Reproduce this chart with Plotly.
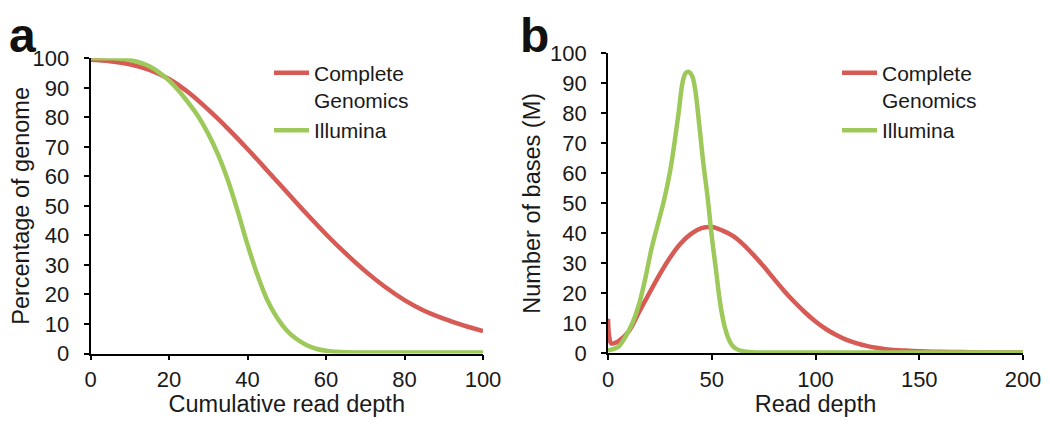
import plotly.graph_objects as go

# ---------------- data ----------------
# Panel a: cumulative coverage, percentage of genome
a_cg_x = [0, 5, 10, 15, 20, 25, 30, 35, 40, 45, 50, 55, 60, 65, 70, 75, 80, 85, 90, 95, 100]
a_cg_y = [99.5, 99.0, 98.0, 96.1, 93.0, 88.4, 82.6, 76.2, 69.3, 62.0, 54.7, 47.4, 40.4, 33.9,
          27.9, 22.6, 18.1, 14.5, 11.8, 9.5, 7.6]
a_il_x = [0, 5, 10, 15, 20, 22.5, 25, 27.5, 30, 32.5, 35, 37.5, 40, 42.5, 45, 47.5, 50, 52.5,
          55, 57.5, 60, 62.5, 65, 70, 80, 90, 100]
a_il_y = [100, 100, 99.4, 97.3, 92.5, 89.0, 84.8, 80.2, 74.4, 67.4, 58.7, 48.2, 36.9, 26.7,
          18.2, 12.2, 7.8, 4.9, 2.9, 1.6, 0.9, 0.6, 0.45, 0.35, 0.3, 0.3, 0.3]

# Panel b: read depth distribution, number of bases (M)
b_cg_x = [0, 0.5, 1.5, 3, 5, 10, 15, 20, 25, 30, 35, 40, 45, 50, 55, 60, 65, 70, 75, 80, 85, 90,
          95, 100, 105, 110, 115, 120, 125, 130, 135, 140, 145, 150, 160, 170, 180, 190, 200]
b_cg_y = [11.5, 6, 3.3, 3.4, 4.0, 7.3, 13.8, 20.2, 26.4, 32.0, 36.6, 39.8, 41.7, 42.1, 41.0,
          39.2, 36.4, 32.9, 29.0, 24.8, 20.7, 17.0, 13.6, 10.6, 8.1, 6.1, 4.5, 3.3, 2.4, 1.75,
          1.3, 1.0, 0.85, 0.7, 0.5, 0.4, 0.3, 0.3, 0.3]
b_il_x = [0, 2, 5, 8, 12, 15, 18, 21, 24, 27, 30, 32, 34, 36, 37.5, 39, 40.5, 42, 44, 46, 48, 50,
          52, 54, 56, 58, 60, 62, 65, 68, 72, 80, 100, 150, 200]
b_il_y = [1, 1.3, 2.2, 5, 10.5, 16.5, 25, 35, 43, 51, 61, 70, 80, 90.5, 93.5, 93.8, 92.5, 88, 76,
          63, 52, 39, 28, 17, 9.5, 5, 2.5, 1.4, 0.7, 0.4, 0.3, 0.3, 0.3, 0.3, 0.3]

series_names = ["Complete<br>Genomics", "Illumina"]
a_xticks = [0, 20, 40, 60, 80, 100]
b_xticks = [0, 50, 100, 150, 200]
yticks = [0, 10, 20, 30, 40, 50, 60, 70, 80, 90, 100]

RED = "#d75a55"
GREEN = "#9dc95b"
FONT = "Liberation Sans, Arial, sans-serif"
TXT = "#1a1a1a"

# page body has an 8px margin, so the figure is sized to fit inside the window
W, H = 1034, 409
OFF = 8


def fx(p):
    return (p - OFF) / W


def fy(p):
    return (H - (p - OFF)) / H


def line(color):
    return dict(color=color, width=4.5, shape="spline", smoothing=1.0)


fig = go.Figure()
fig.add_trace(go.Scatter(x=a_cg_x, y=a_cg_y, mode="lines", name=series_names[0],
                         line=line(RED), xaxis="x", yaxis="y", legend="legend"))
fig.add_trace(go.Scatter(x=a_il_x, y=a_il_y, mode="lines", name=series_names[1],
                         line=line(GREEN), xaxis="x", yaxis="y", legend="legend"))
fig.add_trace(go.Scatter(x=b_cg_x, y=b_cg_y, mode="lines", name=series_names[0],
                         line=line(RED), xaxis="x2", yaxis="y2", legend="legend2"))
fig.add_trace(go.Scatter(x=b_il_x, y=b_il_y, mode="lines", name=series_names[1],
                         line=line(GREEN), xaxis="x2", yaxis="y2", legend="legend2"))

axis_common = dict(showline=True, linecolor="black", linewidth=1.8, ticks="outside",
                   ticklen=5, tickwidth=1.8, tickcolor="black", showgrid=False, zeroline=False,
                   tickfont=dict(family=FONT, size=22, color=TXT), automargin=False)
title_font = dict(family=FONT, size=23.5, color=TXT)
legend_common = dict(xanchor="left", yanchor="top",
                     font=dict(family=FONT, size=21, color=TXT), valign="top",
                     bgcolor="rgba(0,0,0,0)", tracegroupgap=0, itemclick=False,
                     itemwidth=35)

fig.update_layout(
    width=W, height=H,
    margin=dict(l=0, r=0, t=0, b=0),
    paper_bgcolor="white", plot_bgcolor="white",
    font=dict(family=FONT, color=TXT),
    xaxis=dict(domain=[fx(90.5), fx(483)], range=[0, 100], tickvals=a_xticks, anchor="y",
               title=dict(text="Cumulative read depth", font=title_font, standoff=11),
               **axis_common),
    yaxis=dict(domain=[fy(353.5), fy(58.3)], range=[0, 100], tickvals=yticks, anchor="x",
               ticklabelstandoff=10,
               title=dict(text="Percentage of genome", font=title_font, standoff=11),
               **axis_common),
    xaxis2=dict(domain=[fx(608), fx(1023)], range=[0, 200], tickvals=b_xticks, anchor="y2",
                title=dict(text="Read depth", font=title_font, standoff=13),
                **axis_common),
    yaxis2=dict(domain=[fy(353.3), fy(53.3)], range=[0, 100], tickvals=yticks, anchor="x2",
                ticklabelstandoff=10,
                title=dict(text="Number of bases (M)", font=title_font, standoff=3),
                **axis_common),
    legend=dict(x=fx(269), y=fy(52.5), **legend_common),
    legend2=dict(x=fx(837), y=fy(52.5), **legend_common),
    showlegend=True,
    annotations=[
        dict(text="<b>a</b>", x=0, y=1, xref="paper", yref="paper",
             xanchor="left", yanchor="top", showarrow=False, borderpad=0,
             font=dict(family=FONT, size=48, color="#111111")),
        dict(text="<b>b</b>", x=fx(519), y=1, xref="paper", yref="paper",
             xanchor="left", yanchor="top", showarrow=False, borderpad=0,
             font=dict(family=FONT, size=48, color="#111111")),
    ],
)

fig.write_html("out.html")
